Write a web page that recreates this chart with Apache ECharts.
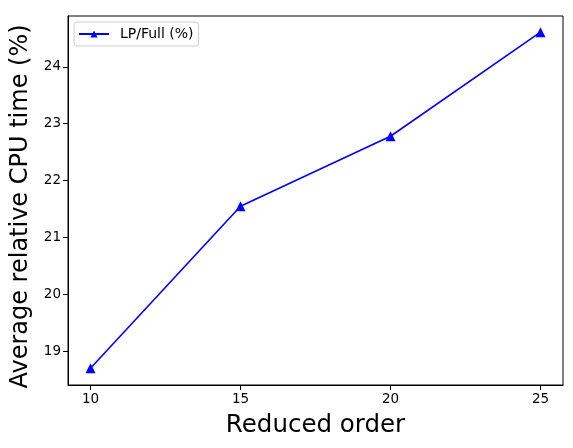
<!DOCTYPE html>
<html><head><meta charset="utf-8">
<script src="https://cdn.jsdelivr.net/npm/echarts@6/dist/echarts.min.js"></script>
<style>html,body{margin:0;padding:0;background:#fff}#c{width:573px;height:448px}</style>
</head><body><div id="c"></div>
<script>
const categories = [10, 15, 20, 25];
const lpFull = [18.70, 21.55, 22.78, 24.61];
const xTicks = [10, 15, 20, 25];
const yTicks = [19, 20, 21, 22, 23, 24];
const seriesName = 'LP/Full (%)';

const font = 'DejaVu Sans';
const chart = echarts.init(document.getElementById('c'), null, {renderer: 'canvas'});
chart.setOption({
  animation: false,
  backgroundColor: '#fff',
  grid: {left: 68, right: 10, top: 16, bottom: 63, show: true, borderColor: '#000', borderWidth: 1, backgroundColor: 'transparent'},
  legend: {
    left: 74, top: 22, padding: [5, 5, 5, 4],
    borderColor: '#ccc', borderWidth: 1, borderRadius: 3,
    itemWidth: 30, itemHeight: 9, itemGap: 6,
    textStyle: {fontFamily: font, fontSize: 14, color: '#000', padding: [0, 0, 0, 6]},
    data: [seriesName]
  },
  xAxis: {
    type: 'value', min: 9.25, max: 25.75,
    name: 'Reduced order', nameLocation: 'middle', nameGap: 28,
    nameTextStyle: {fontFamily: font, fontSize: 24.5, color: '#000'},
    axisLine: {show: true, onZero: false, lineStyle: {color: '#000', width: 1}},
    axisTick: {show: true, length: 5, lineStyle: {color: '#000'}, customValues: xTicks},
    axisLabel: {fontFamily: font, fontSize: 13.5, color: '#000', margin: 7, customValues: xTicks},
    splitLine: {show: false}
  },
  yAxis: {
    type: 'value', min: 18.405, max: 24.895,
    name: 'Average relative CPU time (%)', nameLocation: 'middle', nameGap: 34,
    nameTextStyle: {fontFamily: font, fontSize: 24, color: '#000', padding: [0, 12, 0, 0]},
    axisLine: {show: true, onZero: false, lineStyle: {color: '#000', width: 1}},
    axisTick: {show: true, length: 5, lineStyle: {color: '#000'}, customValues: yTicks},
    axisLabel: {fontFamily: font, fontSize: 13.5, color: '#000', margin: 7, customValues: yTicks},
    splitLine: {show: false}
  },
  series: [{
    name: seriesName, type: 'line',
    data: categories.map((c, i) => [c, lpFull[i]]),
    symbol: 'triangle', symbolSize: 10,
    lineStyle: {color: '#0000ff', width: 1.6},
    itemStyle: {color: '#0000ff'}
  }]
});
</script></body></html>
